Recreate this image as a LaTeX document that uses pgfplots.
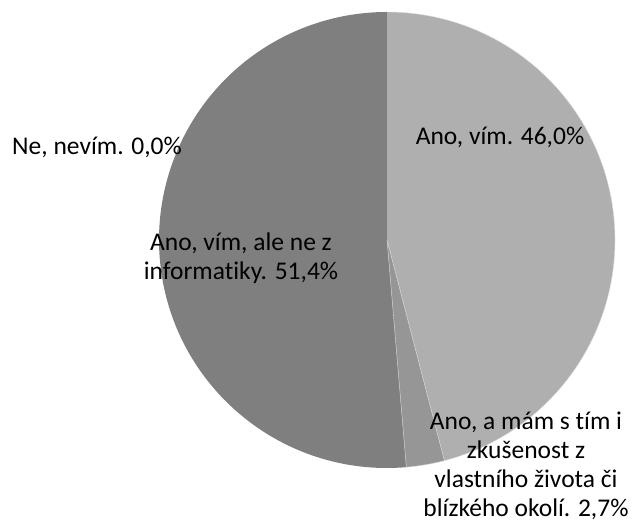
\documentclass[border=0pt]{standalone}
\usepackage{pgfplots}
\usepackage{pgfplotstable}
\usepackage{fontspec}
\setmainfont{Carlito}[Ligatures={NoCommon}]
\pgfplotsset{compat=1.18}
\definecolor{sliceA}{HTML}{AFAFAF}
\definecolor{sliceB}{HTML}{969696}
\definecolor{sliceC}{HTML}{7F7F7F}
\pgfplotstableread{
value
46.0
2.7
51.4
0.0
}\piedata
\begin{document}
\begin{tikzpicture}
\pgfplotstablegetelem{0}{value}\of\piedata \let\vA\pgfplotsretval
\pgfplotstablegetelem{1}{value}\of\piedata \let\vB\pgfplotsretval
\pgfplotstablegetelem{2}{value}\of\piedata \let\vC\pgfplotsretval
\pgfplotstablegetelem{3}{value}\of\piedata \let\vD\pgfplotsretval
\pgfmathsetmacro\tot{\vA+\vB+\vC+\vD}
\pgfmathsetmacro\aA{90}
\pgfmathsetmacro\aB{\aA-360*(\vA/\tot)}
\pgfmathsetmacro\aC{\aB-360*(\vB/\tot)}
\pgfmathsetmacro\aD{\aC-360*(\vC/\tot)}
\def\cx{387}\def\cy{289}\def\R{228}
\begin{axis}[
  scale only axis, width=637pt, height=529pt,
  xmin=0, xmax=637, ymin=0, ymax=529,
  hide axis, clip=false,
]
\fill[sliceA, draw=white!60!sliceA, line width=0.4pt] (axis cs:\cx,\cy) -- (axis cs:{\cx+\R*cos(\aA)},{\cy+\R*sin(\aA)}) arc[start angle=\aA, end angle=\aB, radius=\R pt] -- cycle;
\fill[sliceB, draw=white!60!sliceB, line width=0.4pt] (axis cs:\cx,\cy) -- (axis cs:{\cx+\R*cos(\aB)},{\cy+\R*sin(\aB)}) arc[start angle=\aB, end angle=\aC, radius=\R pt] -- cycle;
\fill[sliceC] (axis cs:\cx,\cy) -- (axis cs:{\cx+\R*cos(\aC)},{\cy+\R*sin(\aC)}) arc[start angle=\aC, end angle=\aD, radius=\R pt] -- cycle;
\draw[white!60!sliceC, line width=0.4pt] (axis cs:\cx,\cy) -- (axis cs:{\cx+\R*cos(\aC)},{\cy+\R*sin(\aC)});
\begin{scope}[font=\fontsize{25.5}{29}\selectfont, text=black]
\node[align=center] at (axis cs:500,392) {Ano, vím. 46,0\%};
\node[align=center] at (axis cs:241,271) {Ano, vím, ale ne z\\informatiky. 51,4\%};
\node[align=center] at (axis cs:97,382) {Ne, nevím. 0,0\%};
\node[align=center] at (axis cs:526,63) {Ano, a mám s tím i\\zkušenost z\\vlastního života či\\blízkého okolí. 2,7\%};
\end{scope}
\end{axis}
\pgfresetboundingbox
\path[use as bounding box] (0,0) rectangle (637pt,529pt);
\end{tikzpicture}
\end{document}
